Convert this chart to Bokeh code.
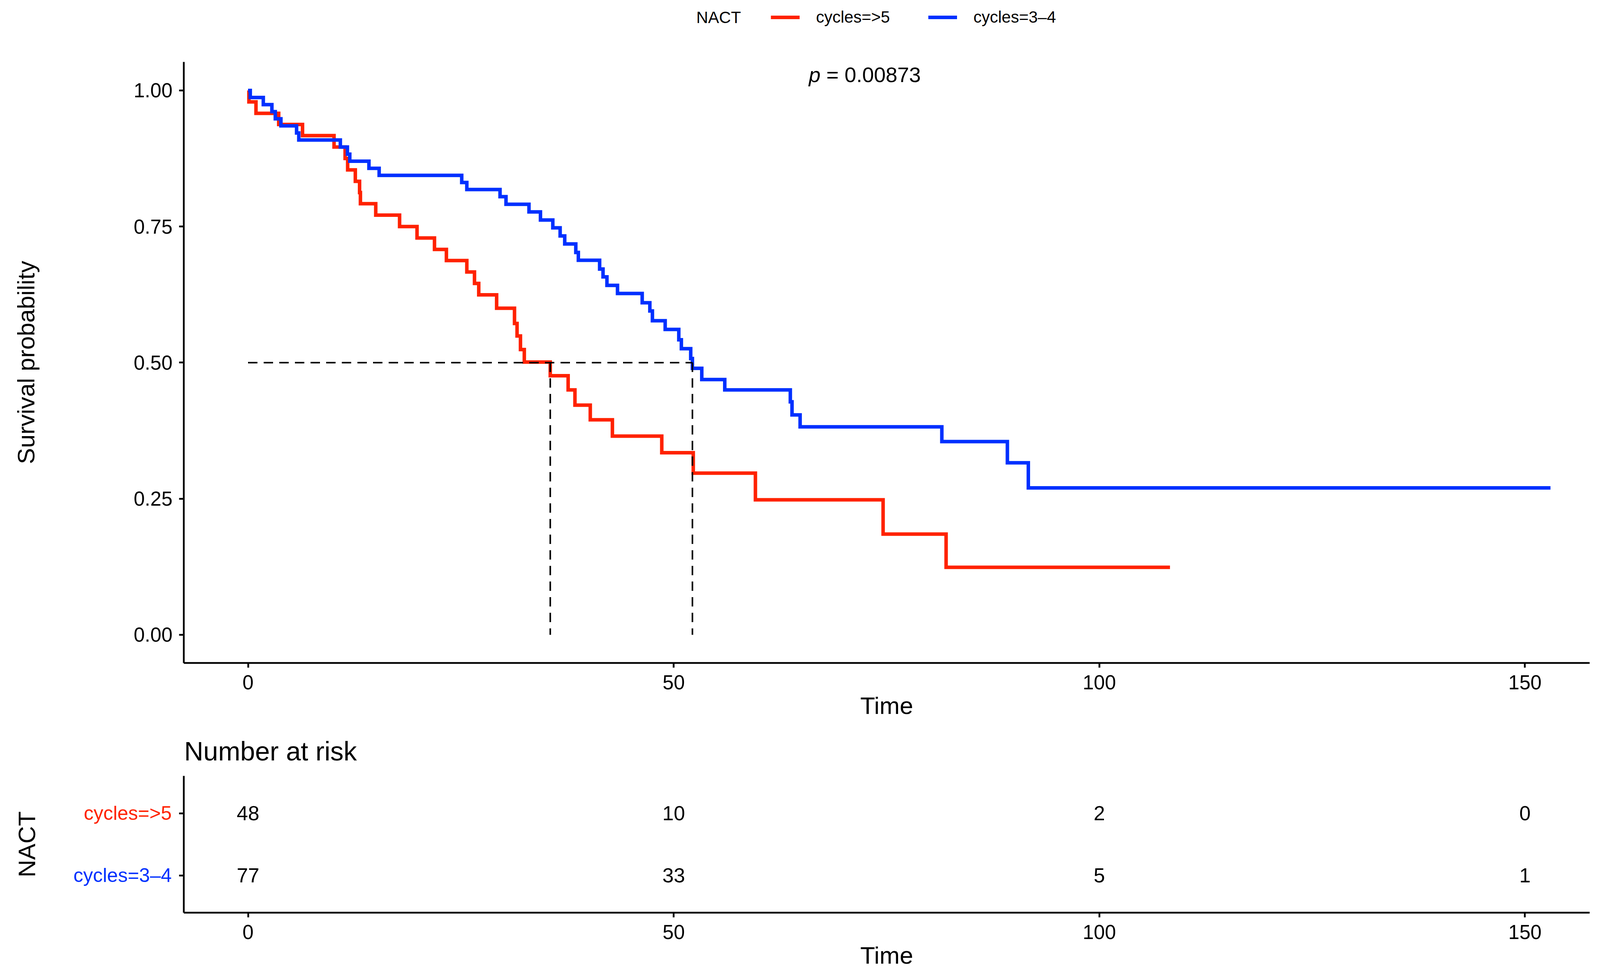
import math
from bokeh.plotting import figure
from bokeh.models import (Range1d, FixedTicker, NumeralTickFormatter, Label, Legend, LegendItem)
from bokeh.core.properties import value
from bokeh.layouts import column, row
from bokeh.embed import file_html
from bokeh.resources import INLINE

FONT = "Liberation Sans"
RED = "#ff2200"
BLUE = "#0030ff"

# Kaplan-Meier steps (time, survival)
red_time = [0, 0.1, 0.93, 3.6, 6.4, 10.1, 11.4, 11.7, 12.6, 13.1, 13.2, 15.0, 17.8, 19.85,
            21.9, 23.3, 25.7, 26.6, 27.1, 29.2, 31.3, 31.6, 32.0, 32.45, 35.5, 37.6, 38.4,
            40.2, 42.8, 48.6, 52.3, 59.6, 74.6, 82.0, 108.3]
red_surv = [1.0, 0.979, 0.958, 0.9375, 0.917, 0.896, 0.875, 0.854, 0.833, 0.8125, 0.792,
            0.771, 0.750, 0.729, 0.708, 0.6875, 0.6665, 0.6455, 0.6245, 0.600, 0.572, 0.549,
            0.524, 0.501, 0.476, 0.450, 0.422, 0.395, 0.365, 0.3345, 0.297, 0.248, 0.185,
            0.124, 0.124]

blue_time = [0, 0.26, 1.79, 2.8, 3.2, 3.86, 5.7, 5.96, 10.84, 11.67, 11.95, 14.2, 15.4, 25.1,
             25.7, 29.6, 30.3, 33.0, 34.35, 35.8, 36.66, 37.2, 38.5, 38.8, 41.3, 41.7, 42.16,
             43.4, 46.3, 47.2, 47.5, 49.0, 50.6, 50.9, 52.0, 52.2, 53.3, 56.0, 63.7, 63.9,
             64.85, 81.5, 89.2, 91.66, 153.0]
blue_surv = [1.0, 0.987, 0.974, 0.961, 0.948, 0.935, 0.922, 0.909, 0.896, 0.883, 0.870,
             0.857, 0.844, 0.831, 0.818, 0.805, 0.791, 0.777, 0.762, 0.7476, 0.7327, 0.718,
             0.7025, 0.688, 0.672, 0.6575, 0.642, 0.627, 0.610, 0.595, 0.577, 0.561, 0.542,
             0.5256, 0.5075, 0.4896, 0.469, 0.450, 0.428, 0.404, 0.382, 0.355, 0.316, 0.270,
             0.270]

medians = [35.5, 52.2]

groups = ["cycles=>5", "cycles=3\u20134"]
group_colors = [RED, BLUE]
row_pos = [2, 1]

risk_times = [0, 50, 100, 150]
red_risk = [48, 10, 2, 0]
blue_risk = [77, 33, 5, 1]

x_ticks = [0, 50, 100, 150]
y_ticks = [0, 0.25, 0.5, 0.75, 1.0]
p_text = "0.00873"

XMIN, XMAX = -7.55, 157.6
YMIN, YMAX = -0.0517, 1.0524
W = 4090
LW = 456           # strip holding the risk table row names


def style_axis(ax):
    ax.axis_line_width = 4.5
    ax.major_tick_line_width = 4.5
    ax.major_tick_out = 12
    ax.major_tick_in = 0
    ax.minor_tick_line_color = None
    ax.major_label_text_font = FONT
    ax.major_label_text_font_size = "51px"
    ax.major_label_text_color = "black"
    ax.axis_label_text_font = FONT
    ax.axis_label_text_font_size = "62px"
    ax.axis_label_text_font_style = "normal"
    ax.axis_label_text_color = "black"


def style_fig(fig):
    style_axis(fig.xaxis[0])
    style_axis(fig.yaxis[0])
    fig.xgrid.visible = False
    fig.ygrid.visible = False
    fig.outline_line_color = None
    fig.xaxis.ticker = FixedTicker(ticks=x_ticks)
    fig.xaxis.major_label_standoff = 19
    fig.xaxis.axis_label = "Time"
    fig.xaxis.axis_label_standoff = 4


# legend strip on top
t = figure(width=W, height=158, x_range=Range1d(XMIN, XMAX), y_range=Range1d(5, 6),
           x_axis_location=None, y_axis_location=None, output_backend="svg",
           toolbar_location=None, min_border=0)
t.grid.visible = False
t.outline_line_color = None
t.add_layout(Label(x=1312, y=114, x_units="screen", y_units="screen", text="NACT",
                   text_font=FONT, text_font_size="42px", text_baseline="middle",
                   text_color="black"))
for xs, ys, grp, col, vx in zip([red_time, blue_time], [red_surv, blue_surv], groups,
                                group_colors, [1503, 1906]):
    key = t.step(xs, ys, mode="after", line_color=col, line_width=9, visible=False)
    t.add_layout(Legend(items=[LegendItem(label=grp, renderers=[key])], location=(vx, 90),
                        orientation="horizontal", glyph_width=74, glyph_height=48,
                        label_height=48, label_standoff=42, padding=0, margin=0,
                        border_line_color=None, background_fill_alpha=0,
                        label_text_font=FONT, label_text_font_size="42px",
                        label_text_color="black"))

# survival curves
p = figure(width=W, height=1706, x_range=Range1d(XMIN, XMAX), y_range=Range1d(YMIN, YMAX),
           output_backend="svg", toolbar_location=None,
           min_border_left=470, min_border_right=21, min_border_top=0, min_border_bottom=168)
style_fig(p)
p.yaxis.ticker = FixedTicker(ticks=y_ticks)
p.yaxis.formatter = NumeralTickFormatter(format="0.00")
p.yaxis.major_label_standoff = 17
p.yaxis.axis_label = "Survival probability"
p.yaxis.axis_label_standoff = 238

p.step(red_time, red_surv, mode="after", line_color=RED, line_width=9, line_join="miter")
p.step(blue_time, blue_surv, mode="after", line_color=BLUE, line_width=9, line_join="miter")

# median lines
p.segment(x0=[0], y0=[0.5], x1=[max(medians)], y1=[0.5], line_color="black",
          line_width=4, line_dash="24 16")
p.segment(x0=medians, y0=[0.5] * len(medians), x1=medians, y1=[0] * len(medians),
          line_color="black", line_width=4, line_dash="24 16")

# p value
p.add_layout(Label(x=67.25, y=1.0294, text="p", text_font=FONT, text_font_size="54px",
                   text_font_style="italic", text_align="right", text_baseline="middle",
                   text_color="black"))
p.add_layout(Label(x=67.25, y=1.0294, x_offset=15, text="= " + p_text, text_font=FONT,
                   text_font_size="54px", text_align="left", text_baseline="middle",
                   text_color="black"))

# number at risk table (frame runs up to hold its title)
ry = Range1d(0.4, 0.4 + 471 / 159)
r = figure(width=W - LW, height=629, x_range=Range1d(XMIN, XMAX), y_range=ry,
           output_backend="svg", toolbar_location=None,
           min_border_left=14, min_border_right=21, min_border_top=0, min_border_bottom=158)
style_fig(r)
r.yaxis.bounds = (0.4, 2.6)
r.yaxis.ticker = FixedTicker(ticks=row_pos)
r.yaxis.major_label_overrides = {v: "" for v in row_pos}
r.yaxis.major_label_standoff = 0

for counts, ypos in [(red_risk, row_pos[0]), (blue_risk, row_pos[1])]:
    r.text(x=risk_times, y=[ypos] * len(risk_times), text=[str(c) for c in counts],
           text_font=value(FONT), text_font_size="52px", text_align="center",
           text_baseline="middle", text_color="black")

r.add_layout(Label(x=1, y=414, x_units="screen", y_units="screen", text="Number at risk",
                   text_font=FONT, text_font_size="68px", text_baseline="middle",
                   text_color="black"))

# row names of the risk table and the strata title
lab = figure(width=LW, height=629, x_range=Range1d(0, LW), y_range=ry,
             x_axis_location=None, y_axis_location=None, output_backend="svg",
             toolbar_location=None, min_border_left=0, min_border_right=0, min_border_top=0,
             min_border_bottom=158)
lab.grid.visible = False
lab.outline_line_color = None
lab.text(x=[439] * len(groups), y=row_pos, text=groups, text_color=group_colors,
         text_font=value(FONT), text_font_size="50px", text_align="right",
         text_baseline="middle")
lab.text(x=[68], y=[sum(row_pos) / len(row_pos)], text=["NACT"], angle=math.pi / 2,
         text_font=value(FONT), text_font_size="62px", text_align="center",
         text_baseline="middle", text_color="black")

layout = column(t, p, row(lab, r, spacing=0), spacing=0)
open("out.html", "w").write(file_html(layout, INLINE))
